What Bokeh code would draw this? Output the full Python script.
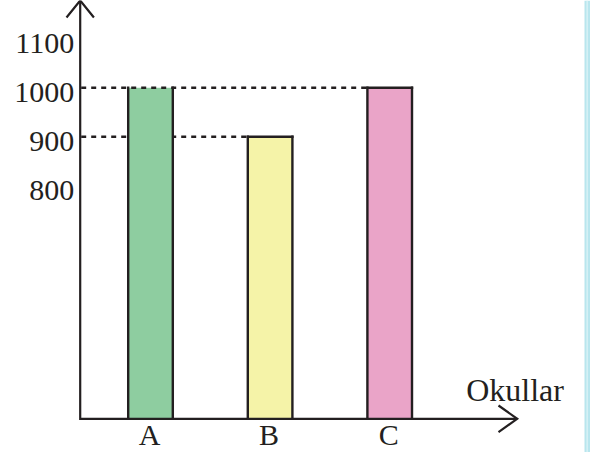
from bokeh.plotting import figure
from bokeh.models import Range1d, BoxAnnotation
from bokeh.core.properties import value
from bokeh.embed import file_html
from bokeh.resources import INLINE

# ---- data ----
categories = ["A", "B", "C"]
students = [1000, 900, 1000]
tick_values = [800, 900, 1000, 1100]
tick_labels = ["800", "900", "1000", "1100"]
guide_values = [1000, 900]
bar_colors = ["#8ecda0", "#f5f3a8", "#eaa4c8"]
x_title = "Okullar"

# ---- layout constants ----
W, H = 590, 452
X0, X1 = -1.2542, 3.6789
Y0, Y1 = 255.5, 1178.0
SX = W / (X1 - X0)          # px per x unit
SY = H / (Y1 - Y0)          # px per y unit
AXIS_BASE = 324.3           # value where the (broken) y axis meets the x axis
Y_AXIS_X = -0.5878
Y_TIP = Y1
X_TIP = 3.066
BAR_W = 0.373
INK = "#231f20"
FONT = value("Liberation Serif")
FS = "30px"
LW = 2.4

p = figure(width=W, height=H, output_backend="svg", toolbar_location=None,
           x_range=Range1d(X0, X1), y_range=Range1d(Y0, Y1),
           x_axis_type=None, y_axis_type=None, min_border=0)
p.outline_line_color = None
p.background_fill_color = "white"
p.border_fill_color = "white"

xs = list(range(len(categories)))
half = BAR_W / 2

# dashed guide lines: a guide lies under the bars if a taller bar stands in its way,
# otherwise it is drawn over them (it then forms the top edge of equal bars)
over_guides, under_guides = [], []
for v in guide_values:
    last = max(i for i, s in enumerate(students) if s == v)
    blocked = any(students[i] > v for i in range(last))
    (under_guides if blocked else over_guides).append((v, last))


def draw_guides(guides):
    for v, last in guides:
        p.segment(x0=Y_AXIS_X + 1.0 / SX, y0=v, x1=last - half, y1=v,
                  line_color=INK, line_width=LW, line_dash="5 5")


draw_guides(under_guides)

# bars: fill, sides, tops
p.vbar(x=xs, width=BAR_W, bottom=AXIS_BASE, top=students,
       fill_color=bar_colors, line_color=None)
p.segment(x0=[i - half for i in xs], y0=[AXIS_BASE] * len(xs),
          x1=[i - half for i in xs], y1=students,
          line_color=INK, line_width=LW, line_cap="square")
p.segment(x0=[i + half for i in xs], y0=[AXIS_BASE] * len(xs),
          x1=[i + half for i in xs], y1=students,
          line_color=INK, line_width=LW, line_cap="square")
covered = set()
for v, last in over_guides:
    covered.update(i for i in range(last) if students[i] == v)
solid = [i for i in xs if i not in covered]
p.segment(x0=[i - half for i in solid], y0=[students[i] for i in solid],
          x1=[i + half for i in solid], y1=[students[i] for i in solid],
          line_color=INK, line_width=LW, line_cap="square")

draw_guides(over_guides)

# axes lines
p.line([Y_AXIS_X, Y_AXIS_X, X_TIP], [Y_TIP, AXIS_BASE, AXIS_BASE],
       line_color=INK, line_width=2.2, line_join="miter")
# arrow heads
p.line([Y_AXIS_X - 13.7 / SX, Y_AXIS_X, Y_AXIS_X + 13.7 / SX],
       [Y_TIP - 17 / SY, Y_TIP, Y_TIP - 17 / SY],
       line_color=INK, line_width=2.2, line_join="miter")
p.line([X_TIP - 18.7 / SX, X_TIP, X_TIP - 18.7 / SX],
       [AXIS_BASE + 13.3 / SY, AXIS_BASE, AXIS_BASE - 13.3 / SY],
       line_color=INK, line_width=2.2, line_join="miter")

# tick labels
p.text(x=[Y_AXIS_X] * len(tick_values), y=tick_values, text=tick_labels,
       x_offset=-6, y_offset=4.5, text_align="right", text_baseline="middle",
       text_font=FONT, text_font_size=FS, text_color=INK)

# category labels
p.text(x=xs, y=[AXIS_BASE] * len(xs), text=categories,
       x_offset=-1, y_offset=15.8, text_align="center", text_baseline="middle",
       text_font=FONT, text_font_size=FS, text_color=INK)

# axis title
p.text(x=[X_TIP], y=[AXIS_BASE], text=[x_title],
       x_offset=-51, y_offset=-28.4, text_align="left", text_baseline="middle",
       text_font=FONT, text_font_size="32px", text_color=INK)

# page border stripe on the right
p.add_layout(BoxAnnotation(left=584, right=590, left_units="screen", right_units="screen",
                           fill_color="#b9e6ee", fill_alpha=1, line_color=None))
p.add_layout(BoxAnnotation(left=586, right=587.3, left_units="screen", right_units="screen",
                           fill_color="#dcf3f6", fill_alpha=1, line_color=None))

open("out.html", "w").write(file_html(p, INLINE))
